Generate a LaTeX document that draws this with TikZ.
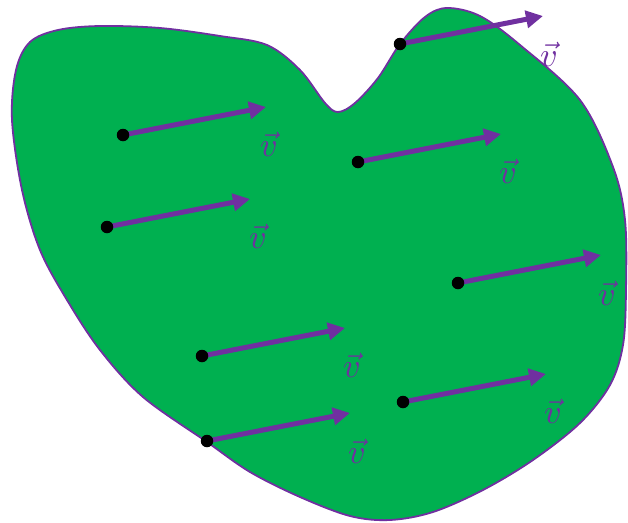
\documentclass[tikz,border=0pt]{standalone}
\usepackage{graphicx}
\usetikzlibrary{arrows.meta}
\definecolor{blobgreen}{HTML}{00B050}
\definecolor{vpurple}{HTML}{7030A0}
\newcommand{\bigvec}{\scalebox{3.4}{$\vec{v}$}}
\tikzset{
  blob/.style={fill=blobgreen, draw=vpurple, line width=1.8pt},
  vecarrow/.style={draw=vpurple, line width=5pt, -{Triangle[length=17pt,width=17pt]}},
  dot/.style={circle, fill=black, inner sep=0pt, minimum size=12.5pt},
  vlabel/.style={text=vpurple, inner sep=0pt}
}
\begin{document}
\begin{tikzpicture}[x=1pt,y=-1pt]
\useasboundingbox (0,0) rectangle (628,522);
\path[blob] plot[smooth cycle, tension=0.55] coordinates {
  (12,120) (16,70) (30,42) (58,30) (100,26) (160,28) (220,36) (267,45)
  (300,70) (325,103) (338,112) (355,103) (378,78) (400,44) (425,17) (447,8)
  (480,16) (520,45) (580,100) (613,167) (625,220) (626,290) (623,345)
  (610,385) (580,423) (533,460) (483,490) (433,512) (390,520) (350,516)
  (300,497) (250,472) (207,442) (143,397) (100,350) (67,300) (40,250)
  (22,190)};
% arrows
\foreach \i/\sx/\sy in {1/123/135, 2/107/227, 3/358/162, 4/400/44, 5/458/283, 6/202/356, 7/403/402, 8/207/441}{
  \coordinate (s\i) at (\sx,\sy);
  \coordinate (t\i) at ({\sx+143},{\sy-28});
}
\foreach \i in {1,...,8}{
  \draw[vecarrow] (s\i) -- (t\i);
  \node[dot] (d\i) at (s\i) {};
}
\node[vlabel] (l1) at (269,144) {\bigvec};
\node[vlabel] (l2) at (258,236) {\bigvec};
\node[vlabel] (l3) at (508,171) {\bigvec};
\node[vlabel] (l4) at (549,54) {\bigvec};
\node[vlabel] (l5) at (607,293) {\bigvec};
\node[vlabel] (l6) at (352,365) {\bigvec};
\node[vlabel] (l7) at (553,411) {\bigvec};
\node[vlabel] (l8) at (357,451) {\bigvec};
\end{tikzpicture}
\end{document}
